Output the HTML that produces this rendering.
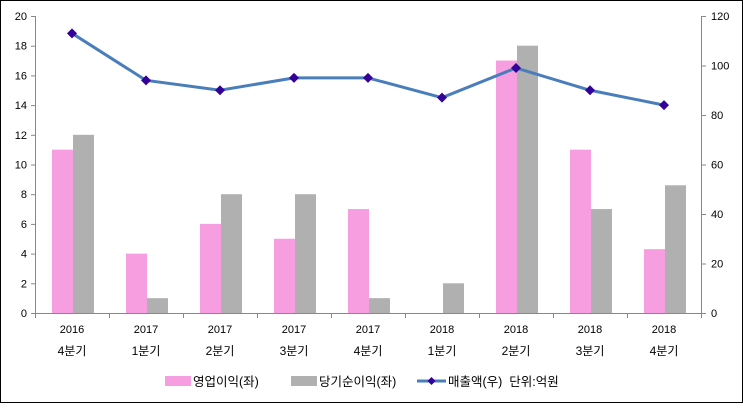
<!DOCTYPE html><html><head><meta charset="utf-8"><style>body{margin:0}svg text{font-family:"Liberation Sans","Noto Sans CJK KR",sans-serif;font-size:11px;fill:#000}.lg{font-size:12.5px}</style></head><body>
<svg width="743" height="403" xmlns="http://www.w3.org/2000/svg">
<rect x="0.5" y="0.5" width="742" height="402" fill="#fff" stroke="#000"/>
<g id="bars"></g>
<line x1="35.5" y1="16" x2="35.5" y2="313" stroke="#888"/>
<line x1="701.5" y1="16" x2="701.5" y2="313" stroke="#888"/>
<line x1="35" y1="313.5" x2="701" y2="313.5" stroke="#888"/>
<g id="ax"></g>
<polyline id="ln" fill="none" stroke="#4a7ebb" stroke-width="3"/>
<g id="mk"></g>
<rect x="165" y="376" width="26" height="10" fill="#f79ee0"/>
<text class="lg" x="193" y="386">영업이익(좌)</text>
<rect x="291" y="376" width="26" height="10" fill="#b0b0b0"/>
<text class="lg" x="319" y="386">당기순이익(좌)</text>
<line x1="417" y1="381" x2="446" y2="381" stroke="#4a7ebb" stroke-width="3"/>
<path d="M431.5 377l4 4-4 4-4-4z" fill="#330099"/>
<text class="lg" x="448" y="386" xml:space="preserve">매출액(우)  단위:억원</text>
</svg>
<script>
const P=[11,4,6,5,7,0,17,11,4.3],G=[12,1,8,8,1,2,18,7,8.6],L=[113,94,90,95,95,87,99,90,84];
const Y=['2016','2017','2017','2017','2017','2018','2018','2018','2018'],Q=['4','1','2','3','4','1','2','3','4'];
let b='',a='',m='',pts=[];const w=74;
for(let i=0;i<9;i++){const x=35+i*w;
b+=`<rect x="${x+17}" y="${313-P[i]*14.85}" width="21" height="${P[i]*14.85}" fill="#f79ee0"/><rect x="${x+38}" y="${313-G[i]*14.85}" width="21" height="${G[i]*14.85}" fill="#b0b0b0"/>`;
a+=`<line x1="${x+.5}" y1="313" x2="${x+.5}" y2="318" stroke="#888"/><text x="${x+37}" y="333" text-anchor="middle">${Y[i]}</text><text x="${x+37}" y="355" text-anchor="middle" style="font-size:12px">${Q[i]}분기</text>`;
const cx=x+37,cy=313-L[i]*2.475;pts.push(cx+','+cy);
m+=`<path d="M${cx} ${cy-5}l5 5-5 5-5-5z" fill="#330099"/>`;}
a+=`<line x1="701.5" y1="313" x2="701.5" y2="318" stroke="#888"/>`;
for(let k=0;k<=10;k++){const y=313-k*29.7;a+=`<line x1="31" y1="${y+.5}" x2="35" y2="${y+.5}" stroke="#888"/><text x="27" y="${y+4}" text-anchor="end">${k*2}</text>`;}
for(let k=0;k<=6;k++){const y=313-k*49.5;a+=`<line x1="701" y1="${y+.5}" x2="706" y2="${y+.5}" stroke="#888"/><text x="711" y="${y+4}">${k*20}</text>`;}
bars.innerHTML=b;ax.innerHTML=a;mk.innerHTML=m;ln.setAttribute('points',pts.join(' '));
</script></body></html>
